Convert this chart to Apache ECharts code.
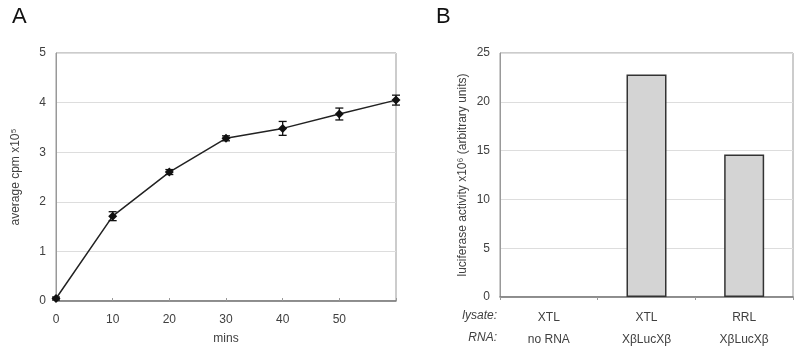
<!DOCTYPE html>
<html><head><meta charset="utf-8">
<script src="https://cdn.jsdelivr.net/npm/echarts@6/dist/echarts.min.js"></script>
<style>html,body{margin:0;padding:0;background:#fff}#c{width:800px;height:351px}</style>
</head><body><div id="c"></div>
<script>
const minutes = [0, 10, 20, 30, 40, 50, 60];
const cpm = [0.05, 1.71, 2.60, 3.28, 3.48, 3.77, 4.05];
const cpmErr = [0.03, 0.09, 0.05, 0.05, 0.14, 0.12, 0.10];
const lysates = ['XTL', 'XTL', 'RRL'];
const rnas = ['no RNA', 'XβLucXβ', 'XβLucXβ'];
const luciferase = [0, 22.8, 14.6];

const font = 'Liberation Sans, Arial, sans-serif';
const lblColor = '#404040';
const chart = echarts.init(document.getElementById('c'), null, {renderer: 'canvas'});
const cats = lysates.map((l, i) => l + '\n' + rnas[i]);

chart.setOption({
  animation: false,
  textStyle: {fontFamily: font},
  graphic: [
    {type: 'text', left: 12, top: 6, style: {text: 'A', font: '22px ' + font, fill: '#111'}},
    {type: 'text', left: 436, top: 6, style: {text: 'B', font: '22px ' + font, fill: '#111'}},
    {type: 'text', right: 303, top: 310, style: {text: 'lysate:', font: 'italic 12px ' + font, fill: lblColor, align: 'right'}},
    {type: 'text', right: 303, top: 332, style: {text: 'RNA:', font: 'italic 12px ' + font, fill: lblColor, align: 'right'}}
  ],
  grid: [
    {left: 56, right: 404, top: 53, bottom: 50, show: true, borderColor: '#999', borderWidth: 1},
    {left: 500, right: 7, top: 53, bottom: 54, show: true, borderColor: '#999', borderWidth: 1}
  ],
  xAxis: [
    {type: 'value', gridIndex: 0, min: 0, max: 60, interval: 10,
     name: 'mins', nameLocation: 'middle', nameGap: 32,
     nameTextStyle: {color: lblColor, fontSize: 12, fontFamily: font},
     axisLine: {lineStyle: {color: '#777', width: 1.5}},
     axisTick: {show: true, inside: true, length: 3, lineStyle: {color: '#999'}},
     axisLabel: {color: lblColor, fontSize: 12, margin: 13, fontFamily: font,
       formatter: v => v === 60 ? '' : String(v)},
     splitLine: {show: false}},
    {type: 'category', gridIndex: 1, data: cats,
     axisLine: {lineStyle: {color: '#777', width: 1.5}},
     axisTick: {show: true, length: 3, lineStyle: {color: '#999'}},
     axisLabel: {color: lblColor, fontSize: 12, margin: 10, lineHeight: 22, fontFamily: font}}
  ],
  yAxis: [
    {type: 'value', gridIndex: 0, min: 0, max: 5, interval: 1,
     name: 'average cpm x10⁵', nameLocation: 'middle', nameGap: 34,
     nameTextStyle: {color: lblColor, fontSize: 12, fontFamily: font},
     axisLine: {show: true, lineStyle: {color: '#999'}},
     axisTick: {show: false},
     axisLabel: {color: lblColor, fontSize: 12, margin: 10, fontFamily: font},
     splitLine: {lineStyle: {color: '#ddd'}}},
    {type: 'value', gridIndex: 1, min: 0, max: 25, interval: 5,
     name: 'luciferase activity x10⁶ (arbitrary units)', nameLocation: 'middle', nameGap: 31,
     nameTextStyle: {color: lblColor, fontSize: 12, fontFamily: font},
     axisLine: {show: true, lineStyle: {color: '#999'}},
     axisTick: {show: false},
     axisLabel: {color: lblColor, fontSize: 12, margin: 10, fontFamily: font},
     splitLine: {lineStyle: {color: '#ddd'}}}
  ],
  series: [
    {type: 'line', xAxisIndex: 0, yAxisIndex: 0,
     data: minutes.map((m, i) => [m, cpm[i]]),
     symbol: 'diamond', symbolSize: 9, showAllSymbol: true,
     lineStyle: {color: '#222', width: 1.5},
     itemStyle: {color: '#111'}, z: 3},
    {type: 'custom', xAxisIndex: 0, yAxisIndex: 0,
     data: minutes.map((m, i) => [m, cpm[i] - cpmErr[i], cpm[i] + cpmErr[i]]),
     renderItem: (params, api) => {
       const lo = api.coord([api.value(0), api.value(1)]);
       const hi = api.coord([api.value(0), api.value(2)]);
       const w = 4;
       const st = {stroke: '#111', lineWidth: 1.3};
       return {type: 'group', children: [
         {type: 'line', shape: {x1: lo[0], y1: lo[1], x2: hi[0], y2: hi[1]}, style: st},
         {type: 'line', shape: {x1: lo[0] - w, y1: lo[1], x2: lo[0] + w, y2: lo[1]}, style: st},
         {type: 'line', shape: {x1: hi[0] - w, y1: hi[1], x2: hi[0] + w, y2: hi[1]}, style: st}
       ]};
     }, z: 4},
    {type: 'bar', xAxisIndex: 1, yAxisIndex: 1, barWidth: 40,
     data: luciferase.map(v => v === 0 ? {value: v, itemStyle: {borderWidth: 0}} : v),
     itemStyle: {color: '#d4d4d4', borderColor: '#333', borderWidth: 1.5}}
  ]
});
</script></body></html>
